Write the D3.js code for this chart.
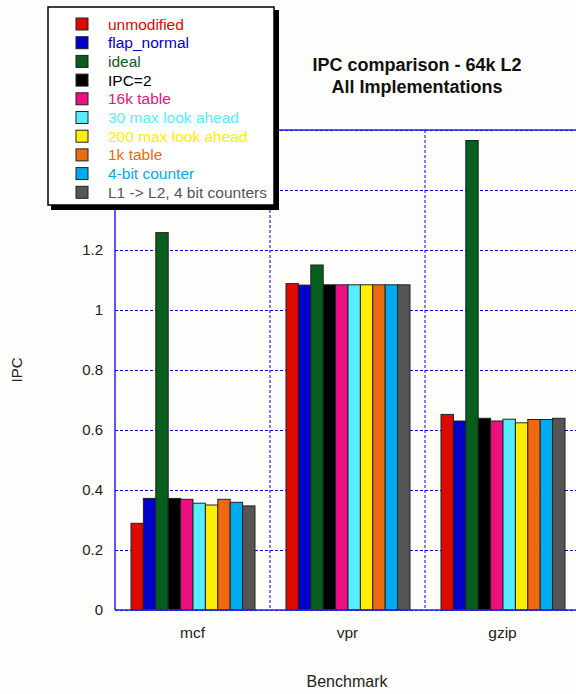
<!DOCTYPE html>
<html>
<head>
<meta charset="utf-8">
<script src="https://cdn.jsdelivr.net/npm/d3@7"></script>
<style>
  body { margin: 0; background: #fdfdfb; }
  text { font-family: Arial, "Liberation Sans", sans-serif; }
</style>
</head>
<body>
<div id="app"></div>
<script>
const benchmarks = ["mcf", "vpr", "gzip"];
const series = ["unmodified", "flap_normal", "ideal", "IPC=2", "16k table",
    "30 max look ahead", "200 max look ahead", "1k table", "4-bit counter",
    "L1 -> L2, 4 bit counters"];
// one array per series: values for mcf, vpr, gzip
const unmodified = [0.289, 1.088, 0.652];
const flapNormal = [0.372, 1.083, 0.630];
const ideal = [1.258, 1.150, 1.565];
const ipc2 = [0.372, 1.084, 0.639];
const table16k = [0.369, 1.084, 0.630];
const lookAhead30 = [0.356, 1.084, 0.636];
const lookAhead200 = [0.350, 1.084, 0.624];
const table1k = [0.369, 1.084, 0.635];
const counter4bit = [0.359, 1.084, 0.635];
const l1l2 = [0.347, 1.084, 0.639];
const yTicks = [0, 0.2, 0.4, 0.6, 0.8, 1, 1.2, 1.4, 1.6];

const values = [unmodified, flapNormal, ideal, ipc2, table16k, lookAhead30,
    lookAhead200, table1k, counter4bit, l1l2];
const colors = ["#dd0a00", "#0000cc", "#075e1e", "#000000", "#ee1080",
    "#55eeff", "#ffee00", "#ee6a10", "#00aaee", "#555555"];

const margin = { left: 115, top: 130, right: -4, bottom: 84 };
const W = 576, H = 694;
const bounds = {
    width: W - margin.left - margin.right,
    height: H - margin.top - margin.bottom
};

const svg = d3.select('#app').append('svg')
    .attr('width', W).attr('height', H)
    .style('background', '#fdfdfb');

const g = svg.append('g')
    .attr('transform', `translate(${margin.left},${margin.top})`);

const x0 = d3.scaleBand().domain(benchmarks).range([0, bounds.width]);
const x1 = d3.scaleBand().domain(series).range([0, x0.bandwidth()])
    .paddingInner(0).paddingOuter(1.25);
const y = d3.scaleLinear().domain([0, 1.6]).range([bounds.height, 0]);

// horizontal grid + y axis labels
const yAxis = g.append('g')
    .call(d3.axisLeft(y).tickValues(yTicks).tickFormat(d3.format('~g'))
        .tickSize(-bounds.width).tickPadding(12));
yAxis.select('.domain').remove();
yAxis.selectAll('line')
    .attr('stroke', '#0000ee').attr('stroke-dasharray', '3,2');
yAxis.selectAll('text')
    .attr('fill', '#222').style('font-size', '15px');

// vertical grid at group boundaries
g.selectAll('.vgrid').data(benchmarks.slice(1)).join('line')
    .attr('class', 'vgrid')
    .attr('x1', d => x0(d)).attr('x2', d => x0(d))
    .attr('y1', 0).attr('y2', bounds.height)
    .attr('stroke', '#0000ee').attr('stroke-dasharray', '3,2');

// bars
const groups = g.selectAll('.grp').data(benchmarks).join('g')
    .attr('class', 'grp')
    .attr('transform', d => `translate(${x0(d)},0)`);
groups.selectAll('rect')
    .data((b, bi) => series.map((s, si) => ({ s, si, v: values[si][bi] })))
    .join('rect')
    .attr('x', d => x1(d.s) + 0.5)
    .attr('width', x1.bandwidth())
    .attr('y', d => y(d.v))
    .attr('height', d => y(0) - y(d.v))
    .attr('fill', d => colors[d.si])
    .attr('stroke', '#222').attr('stroke-width', 1);

// frame lines
g.append('line').attr('x1', 0).attr('x2', 0).attr('y1', 0).attr('y2', bounds.height)
    .attr('stroke', '#2222ee').attr('stroke-width', 1.5);
g.append('line').attr('x1', 0).attr('x2', bounds.width).attr('y1', bounds.height).attr('y2', bounds.height)
    .attr('stroke', '#2222ee').attr('stroke-width', 1.5);
g.append('line').attr('x1', 0).attr('x2', bounds.width).attr('y1', 0).attr('y2', 0)
    .attr('stroke', '#2222ee').attr('stroke-width', 1.5);

// x labels
const xAxis = g.append('g')
    .attr('transform', `translate(0,${bounds.height})`)
    .call(d3.axisBottom(x0).tickSize(0).tickPadding(17));
xAxis.select('.domain').remove();
xAxis.selectAll('text').attr('fill', '#222').style('font-size', '15.5px');

// axis titles
svg.append('text').attr('x', 347).attr('y', 687).attr('text-anchor', 'middle')
    .attr('fill', '#222').style('font-size', '16px').text('Benchmark');
svg.append('text').attr('transform', 'translate(22,370) rotate(-90)')
    .attr('text-anchor', 'middle')
    .attr('fill', '#222').style('font-size', '15px').text('IPC');

// title
svg.append('text').attr('x', 417).attr('y', 71).attr('text-anchor', 'middle')
    .style('font-size', '18px').style('font-weight', 'bold').attr('fill', '#111')
    .text('IPC comparison - 64k L2');
svg.append('text').attr('x', 417).attr('y', 93).attr('text-anchor', 'middle')
    .style('font-size', '18px').style('font-weight', 'bold').attr('fill', '#111')
    .text('All Implementations');

// legend
const lg = svg.append('g').attr('transform', 'translate(48,7)');
lg.append('rect').attr('x', 3).attr('y', 3).attr('width', 228).attr('height', 200).attr('fill', '#000');
lg.append('rect').attr('x', 0).attr('y', 0).attr('width', 226).attr('height', 198)
    .attr('fill', '#fff').attr('stroke', '#000').attr('stroke-width', 1.5);
const rows = lg.selectAll('.row').data(series).join('g')
    .attr('class', 'row')
    .attr('transform', (d, i) => `translate(0,${17 + i * 18.7})`);
rows.append('rect').attr('x', 28).attr('y', -6).attr('width', 12).attr('height', 12)
    .attr('fill', (d, i) => colors[i]).attr('stroke', '#222');
rows.append('text').attr('x', 60).attr('y', 5.5)
    .style('font-size', '15.5px')
    .attr('fill', (d, i) => colors[i])
    .text(d => d);
</script>
</body>
</html>
